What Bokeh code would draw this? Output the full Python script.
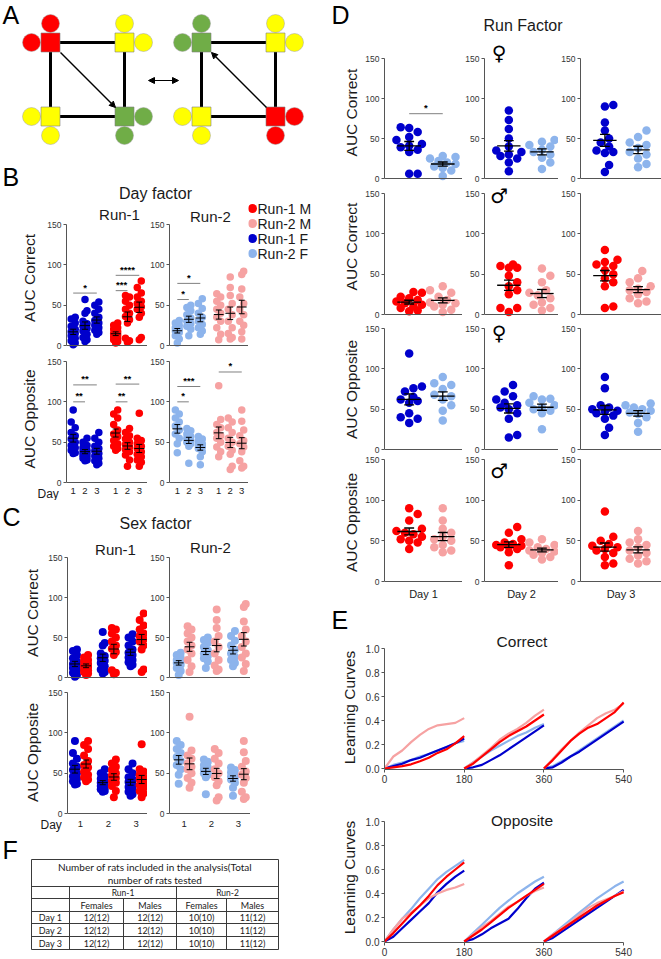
import math
import numpy as np
from bokeh.plotting import figure
from bokeh.layouts import row, column
from bokeh.models import (Range1d, FixedTicker, Span, Arrow, NormalHead, Spacer,
                          NumeralTickFormatter)
from bokeh.core.properties import value
from bokeh.embed import file_html
from bokeh.resources import INLINE

# =========================== DATA ===========================
# Panels B and C: AUC per rat, lists for day 1, day 2, day 3
R1F_COR = [[35, 33, 28, 24, 20, 17, 15, 12, 9, 6, 3, 1],
           [57, 43, 40, 30, 27, 24, 21, 18, 14, 10, 7, 5],
           [54, 50, 45, 40, 35, 31, 28, 25, 22, 19, 16, 14]]
R1M_COR = [[28, 25, 22, 20, 17, 15, 13, 11, 9, 7, 5, 3],
           [62, 60, 55, 50, 45, 40, 36, 32, 28, 9, 6, 4],
           [80, 72, 65, 60, 55, 52, 48, 45, 40, 35, 10, 7]]
R2F_COR = [[31, 28, 25, 22, 20, 18, 16, 12, 8, 3],
           [50, 47, 43, 38, 34, 30, 27, 24, 20, 12],
           [58, 52, 46, 40, 35, 30, 26, 22, 18, 14]]
R2M_COR = [[64, 60, 55, 50, 45, 40, 35, 30, 22, 14, 7],
           [85, 72, 62, 52, 45, 38, 30, 22, 15, 10, 8],
           [92, 88, 70, 60, 52, 45, 38, 30, 25, 17, 8]]
R1F_OPP = [[90, 75, 68, 62, 58, 54, 50, 46, 43, 40, 37, 36],
           [55, 50, 46, 43, 40, 38, 36, 34, 32, 30, 28, 27],
           [62, 55, 50, 45, 42, 39, 36, 33, 30, 27, 24, 22]]
R1M_OPP = [[90, 85, 80, 72, 65, 60, 57, 52, 48, 45, 42, 40],
           [67, 62, 58, 54, 50, 47, 44, 41, 38, 34, 28, 20],
           [86, 55, 52, 48, 45, 42, 38, 35, 32, 28, 25, 20]]
R2F_OPP = [[90, 85, 80, 75, 70, 65, 60, 55, 48, 37],
           [67, 64, 60, 57, 55, 52, 50, 48, 45, 24],
           [57, 54, 51, 48, 46, 44, 42, 38, 32, 22]]
R2M_OPP = [[120, 78, 72, 68, 62, 58, 55, 50, 44, 38, 32],
           [80, 75, 68, 62, 55, 50, 45, 40, 35, 20, 16],
           [90, 76, 65, 58, 52, 48, 44, 38, 27, 20, 18]]

# significance: (group, day a, day b, height, label)
SIG_B_R1_COR = [("F", 1, 3, 65, "*"), ("M", 1, 2, 68, "***"), ("M", 1, 3, 87, "****")]
SIG_B_R2_COR = [("F", 1, 2, 57, "*"), ("F", 1, 3, 77, "*")]
SIG_B_R1_OPP = [("F", 1, 2, 100, "**"), ("F", 1, 3, 121, "**"),
                ("M", 1, 2, 100, "**"), ("M", 1, 3, 122, "**")]
SIG_B_R2_OPP = [("F", 1, 2, 100, "*"), ("F", 1, 3, 119, "***"), ("M", 1, 3, 137, "*")]

# Panel D: run factor (run-1 vs run-2), lists for day 1, day 2, day 3
DF_R1_COR = [[64, 63, 58, 52, 48, 43, 41, 39, 36, 33, 6, 6],
             [85, 73, 62, 50, 40, 35, 33, 30, 28, 25, 20, 9],
             [92, 90, 70, 60, 50, 45, 40, 35, 33, 32, 17, 8]]
DF_R2_COR = [[28, 27, 25, 22, 20, 18, 15, 13, 10, 3],
             [48, 46, 42, 40, 36, 33, 30, 26, 20, 12],
             [60, 52, 45, 42, 38, 33, 30, 25, 18, 14]]
DM_R1_COR = [[28, 27, 22, 20, 18, 16, 14, 12, 10, 8, 5, 4],
             [62, 60, 58, 58, 48, 40, 35, 30, 25, 8, 8, 3],
             [80, 68, 65, 62, 60, 55, 50, 45, 40, 35, 10, 8]]
DM_R2_COR = [[35, 30, 27, 22, 18, 15, 14, 12, 10, 6, 3],
             [57, 48, 40, 30, 27, 24, 20, 15, 12, 8, 5],
             [54, 45, 40, 35, 32, 30, 28, 25, 20, 16, 14]]
DF_R1_OPP = [[119, 78, 76, 72, 65, 62, 60, 58, 45, 40, 38, 33],
             [80, 72, 66, 62, 58, 55, 52, 50, 45, 38, 18, 15],
             [90, 76, 55, 52, 50, 48, 47, 45, 42, 38, 27, 18]]
DF_R2_OPP = [[90, 82, 80, 75, 68, 66, 62, 55, 48, 36],
             [66, 63, 62, 58, 55, 52, 50, 48, 45, 25],
             [57, 55, 52, 50, 48, 46, 44, 40, 33, 22]]
DM_R1_OPP = [[90, 83, 75, 65, 62, 60, 58, 55, 52, 50, 48, 40],
             [67, 60, 52, 48, 46, 45, 44, 43, 42, 40, 36, 20],
             [86, 55, 50, 46, 44, 42, 40, 38, 35, 30, 22, 20]]
DM_R2_OPP = [[90, 75, 65, 60, 55, 52, 50, 45, 42, 38, 36],
             [52, 48, 45, 42, 40, 38, 37, 35, 33, 30, 27],
             [62, 52, 48, 45, 42, 38, 35, 32, 28, 25, 22]]
SIG_D = [(0, 0, 81, "*")]   # (row, column/day index, height, label)

# Panel E: learning curves sampled every 20 s within each 180 s day block
CURVE_T = [0, 20, 40, 60, 80, 100, 120, 140, 160, 180]
DAY_START = [0, 180, 360]
COR_R1M = [[0, 0.01, 0.02, 0.035, 0.06, 0.09, 0.13, 0.16, 0.21, 0.27],
           [0, 0.04, 0.10, 0.16, 0.22, 0.27, 0.31, 0.35, 0.40, 0.45],
           [0, 0.07, 0.15, 0.23, 0.29, 0.34, 0.37, 0.42, 0.47, 0.55]]
COR_R2M = [[0, 0.10, 0.15, 0.22, 0.28, 0.33, 0.36, 0.37, 0.38, 0.42],
           [0, 0.05, 0.11, 0.17, 0.24, 0.29, 0.33, 0.38, 0.44, 0.49],
           [0, 0.08, 0.16, 0.23, 0.30, 0.36, 0.42, 0.46, 0.49, 0.54]]
COR_R1F = [[0, 0.02, 0.04, 0.07, 0.09, 0.12, 0.15, 0.18, 0.21, 0.25],
           [0, 0.01, 0.03, 0.07, 0.11, 0.16, 0.21, 0.26, 0.31, 0.36],
           [0, 0.01, 0.05, 0.10, 0.14, 0.19, 0.24, 0.29, 0.34, 0.39]]
COR_R2F = [[0, 0.03, 0.05, 0.07, 0.10, 0.12, 0.15, 0.18, 0.21, 0.23],
           [0, 0.05, 0.10, 0.15, 0.19, 0.23, 0.27, 0.30, 0.34, 0.37],
           [0, 0.02, 0.06, 0.10, 0.15, 0.20, 0.25, 0.30, 0.35, 0.40]]
OPP_R1M = [[0, 0.07, 0.15, 0.23, 0.30, 0.38, 0.47, 0.54, 0.60, 0.66],
           [0, 0.05, 0.10, 0.16, 0.22, 0.28, 0.33, 0.38, 0.43, 0.48],
           [0, 0.05, 0.10, 0.15, 0.20, 0.25, 0.30, 0.34, 0.38, 0.41]]
OPP_R2M = [[0, 0.10, 0.19, 0.24, 0.30, 0.36, 0.40, 0.43, 0.45, 0.48],
           [0, 0.06, 0.12, 0.17, 0.23, 0.29, 0.33, 0.38, 0.42, 0.45],
           [0, 0.06, 0.11, 0.16, 0.22, 0.28, 0.32, 0.35, 0.38, 0.42]]
OPP_R1F = [[0, 0.04, 0.11, 0.18, 0.25, 0.32, 0.41, 0.48, 0.54, 0.59],
           [0, 0.02, 0.06, 0.11, 0.15, 0.19, 0.27, 0.36, 0.44, 0.49],
           [0, 0.03, 0.08, 0.13, 0.18, 0.23, 0.28, 0.33, 0.38, 0.43]]
OPP_R2F = [[0, 0.10, 0.19, 0.27, 0.36, 0.44, 0.52, 0.58, 0.63, 0.68],
           [0, 0.07, 0.14, 0.21, 0.28, 0.34, 0.40, 0.45, 0.50, 0.54],
           [0, 0.06, 0.12, 0.18, 0.24, 0.30, 0.36, 0.41, 0.46, 0.50]]

# Labels / ticks
LEGEND_LABELS = ["Run-1 M", "Run-2 M", "Run-1 F", "Run-2 F"]
DAY_TICK_LABELS = ["1", "2", "3"]
D_DAY_LABELS = ["Day 1", "Day 2", "Day 3"]
AUC_TICKS = [0, 50, 100, 150]
E_X_TICKS = [0, 180, 360, 540]
E_Y_TICKS = [0.0, 0.2, 0.4, 0.6, 0.8, 1.0]

# Panel F table
TABLE_TITLE = ["Number of rats included in the analysis(Total", "number of rats tested"]
TABLE_RUNS = ["Run-1", "Run-2"]
TABLE_SEX = ["Females", "Males", "Females", "Males"]
TABLE_DAYS = ["Day 1", "Day 2", "Day 3"]
TABLE_COUNTS = [["12(12)", "12(12)", "10(10)", "11(12)"],
                ["12(12)", "12(12)", "10(10)", "11(12)"],
                ["12(12)", "12(12)", "10(10)", "11(12)"]]

# Panel A schematic: node colours (TL, TR, BL, BR) for each arena
A_LEFT_COLORS = ["red", "yellow", "yellow", "green"]
A_RIGHT_COLORS = ["green", "yellow", "yellow", "red"]

# =========================== STYLE ===========================
FONT = "Liberation Sans"
TFONT = "Lato"
AX = "#555555"
TXT = "#1a1a1a"
C_R1M, C_R2M, C_R1F, C_R2F = "#ff0000", "#f6a2a2", "#0000cc", "#8db4ec"
A_COL = {"red": "#ff0000", "yellow": "#ffff00", "green": "#70ad47"}


def mkfig(box, frame=None, xr=None, yr=None, xaxis=False, yaxis=False):
    L, T, R, B = box
    if frame is None:
        frame = box
    fl, ft, fr, fb = frame
    if xr is None:
        xr = (fl, fr)
    if yr is None:
        yr = (fb, ft)
    p = figure(width=R - L, height=B - T, x_range=Range1d(*xr), y_range=Range1d(*yr),
               output_backend="svg", toolbar_location=None, title=None,
               x_axis_location="below" if xaxis else None,
               y_axis_location="left" if yaxis else None,
               min_border_left=fl - L, min_border_right=R - fr,
               min_border_top=ft - T, min_border_bottom=B - fb,
               background_fill_color="white", border_fill_color="white",
               outline_line_color=None)
    p.grid.visible = False
    sx = (xr[1] - xr[0]) / (fr - fl)
    sy = (yr[1] - yr[0]) / (fb - ft)

    def X(px):
        return xr[0] + (px - fl) * sx

    def Y(py):
        return yr[0] + (fb - py) * sy
    return p, X, Y


def xr_from(fl, fr, px_a, a, ppu):
    s = a - (px_a - fl) / ppu
    return (s, s + (fr - fl) / ppu)


def yr_from(ft, fb, y0px, ytop_px, vtop):
    ppu = (y0px - ytop_px) / vtop
    return (-(fb - y0px) / ppu, vtop + (ytop_px - ft) / ppu), ppu


def txt(p, x, y, s, size, align="center", baseline="middle", font=FONT,
        color=TXT, style="normal", angle=0.0):
    p.text(x=[x], y=[y], text=[s], text_font=value(font),
           text_font_size=value(f"{size}px"), text_align=align,
           text_baseline=baseline, text_color=color, text_font_style=style,
           angle=angle, level="overlay")


def letter(p, x, y, s):
    txt(p, x, y, s, 25, align="left", baseline="top", color="black")


def style_y(p, ticks, label=None, standoff=5, fmt=None, size="8.5px", label_size="15.5px"):
    ax = p.yaxis[0]
    ax.ticker = FixedTicker(ticks=ticks)
    ax.bounds = (ticks[0], ticks[-1])
    ax.axis_line_color = AX
    ax.major_tick_line_color = AX
    ax.minor_tick_line_color = None
    ax.major_tick_out = 3
    ax.major_tick_in = 0
    ax.major_label_text_font = FONT
    ax.major_label_text_font_size = size
    ax.major_label_text_color = "#333333"
    ax.major_label_standoff = 2
    if fmt is not None:
        ax.formatter = fmt
    if label:
        ax.axis_label = label
        ax.axis_label_text_font = FONT
        ax.axis_label_text_font_size = label_size
        ax.axis_label_text_font_style = "normal"
        ax.axis_label_text_color = TXT
        ax.axis_label_standoff = standoff


def style_x_labels(p, ticks, labels, size="9.5px", standoff=0):
    ax = p.xaxis[0]
    ax.ticker = FixedTicker(ticks=ticks)
    ax.major_label_overrides = {t: l for t, l in zip(ticks, labels)}
    ax.axis_line_color = None
    ax.major_tick_line_color = None
    ax.minor_tick_line_color = None
    ax.major_tick_out = 0
    ax.major_tick_in = 0
    ax.major_label_standoff = standoff
    ax.major_label_text_font = FONT
    ax.major_label_text_font_size = size
    ax.major_label_text_color = "#222222"


def swarm(vals, ppu_y, diam, max_off, step):
    order = sorted(range(len(vals)), key=lambda i: vals[i])
    placed = []
    offs = [0.0] * len(vals)
    cands = [0.0]
    k = 1
    while k * step <= max_off + 1e-9:
        cands += [k * step, -k * step]
        k += 1
    for i in order:
        y = vals[i] * ppu_y
        best = None
        for c in cands:
            if all((c - px) ** 2 + (y - py) ** 2 >= (diam * 0.92) ** 2 for px, py in placed):
                best = c
                break
        if best is None:
            best = max(cands, key=lambda c: min([(c - px) ** 2 + (y - py) ** 2
                                                 for px, py in placed] or [1e9]))
        offs[i] = best
        placed.append((best, y))
    return offs


def strip(p, xc, vals, color, ppu_x, ppu_y, diam, max_off, step, mean_half, cap_half, lw=1.0):
    offs = swarm(vals, ppu_y, diam, max_off, step)
    xs = [xc + o / ppu_x for o in offs]
    p.scatter(x=xs, y=vals, size=diam, fill_color=color, line_color=None)
    v = np.array(vals, dtype=float)
    m = v.mean()
    s = v.std(ddof=1) / np.sqrt(len(v))
    mh = mean_half / ppu_x
    ch = cap_half / ppu_x
    p.segment(x0=[xc - mh, xc, xc - ch, xc - ch], y0=[m, m - s, m + s, m - s],
              x1=[xc + mh, xc, xc + ch, xc + ch], y1=[m, m + s, m + s, m - s],
              line_color="black", line_width=lw)


def sig(p, x0, x1, y, label, ppu_y):
    p.segment(x0=[x0], y0=[y], x1=[x1], y1=[y], line_color="#808080", line_width=1)
    p.text(x=[(x0 + x1) / 2], y=[y + 0.5 / ppu_y], text=[label], text_align="center",
           text_baseline="bottom", text_font=value(FONT), text_font_size=value("9.5px"),
           text_font_style="bold", text_color="black", level="overlay")


def baseline(p):
    p.add_layout(Span(location=0, dimension="width", line_color=AX, line_width=1))


# =========================== PANEL A ===========================
fA, XA, YA = mkfig((0, 0, 330, 160))
letter(fA, 2, 0.5, "A")
corner_x = {"L": [50, 124], "R": [201, 275]}
corner_y = [42, 116]
circ_dirs = [[(0, -19), (-19, 0)], [(0, -19), (19, 0)], [(-19, 0), (0, 19)], [(19, 0), (0, 19)]]
for key, cols in (("L", A_LEFT_COLORS), ("R", A_RIGHT_COLORS)):
    xs_ = corner_x[key]
    nodes = [(xs_[0], corner_y[0]), (xs_[1], corner_y[0]), (xs_[0], corner_y[1]), (xs_[1], corner_y[1])]
    ring = [0, 1, 3, 2, 0]
    fA.line([nodes[i][0] for i in ring], [nodes[i][1] for i in ring], line_color="black", line_width=3)
    cx, cy, cc = [], [], []
    for (nx, ny), col, dirs in zip(nodes, cols, circ_dirs):
        for dx, dy in dirs:
            cx.append(nx + dx)
            cy.append(ny + dy)
            cc.append(A_COL[col])
    fA.scatter(cx, cy, size=18, marker="circle", fill_color=cc, line_color="#a0a0a0", line_width=0.5)
    fA.scatter([n[0] for n in nodes], [n[1] for n in nodes], size=19, marker="square",
               fill_color=[A_COL[c] for c in cols], line_color="#808080", line_width=0.6)
head = dict(size=6, fill_color="black", line_color="black")
fA.add_layout(Arrow(end=NormalHead(**head), x_start=60, y_start=52, x_end=115, y_end=107,
                    line_width=1.5, line_color="black"))
fA.add_layout(Arrow(end=NormalHead(**head), x_start=266, y_start=107, x_end=211, y_end=52,
                    line_width=1.5, line_color="black"))
fA.add_layout(Arrow(start=NormalHead(**head), end=NormalHead(**head), x_start=148, y_start=80,
                    x_end=178, y_end=80, line_width=1.2, line_color="black"))

# =========================== PANEL B ===========================
B_PPX = 1.18
B_POS_F = [10, 20, 30]
B_POS_M = [46, 56, 66]


def b_panel(box, frame, y0, y150, anchor, Fs, Ms, cF, cM, sigs, bottom=False,
            ylabel=None, standoff=6):
    xr = xr_from(frame[0], frame[2], anchor, B_POS_F[0], B_PPX)
    yr, ppy = yr_from(frame[1], frame[3], y0, y150, 150)
    p, X, Y = mkfig(box, frame, xr, yr, xaxis=bottom, yaxis=True)
    style_y(p, AUC_TICKS, ylabel, standoff)
    baseline(p)
    for k in range(3):
        strip(p, B_POS_F[k], Fs[k], cF, B_PPX, ppy, 7.5, 2, 2, 5, 3)
        strip(p, B_POS_M[k], Ms[k], cM, B_PPX, ppy, 7.5, 2, 2, 5, 3)
    for g, a, b, y, lab in sigs:
        pos = B_POS_F if g == "F" else B_POS_M
        sig(p, pos[a - 1], pos[b - 1], y, lab, ppy)
    if bottom:
        style_x_labels(p, B_POS_F + B_POS_M, DAY_TICK_LABELS * 2)
    return p, X, Y


fBh, XBh, YBh = mkfig((0, 160, 248, 205))
letter(fBh, 2, 162.5, "B")
txt(fBh, 155, 193, "Day factor", 16)

fBtl, X1, Y1 = b_panel((0, 205, 147, 350), (66, 205, 147, 350), 345, 224, 72.7,
                       R1F_COR, R1M_COR, C_R1F, C_R1M, SIG_B_R1_COR, ylabel="AUC Correct")
txt(fBtl, X1(119), Y1(214), "Run-1", 15)
fBtr, X2, Y2 = b_panel((147, 205, 248, 350), (167, 205, 248, 350), 345, 224, 175,
                       R2F_COR, R2M_COR, C_R2F, C_R2M, SIG_B_R2_COR)
txt(fBtr, X2(209), Y2(216), "Run-2", 15)
fBbl, X3, Y3 = b_panel((0, 350, 147, 500), (66, 350, 147, 487), 482, 361, 72.7,
                       R1F_OPP, R1M_OPP, C_R1F, C_R1M, SIG_B_R1_OPP, bottom=True,
                       ylabel="AUC Opposite")
txt(fBbl, X3(37), Y3(493), "Day", 12, align="left")
fBbr, X4, Y4 = b_panel((147, 350, 248, 500), (167, 350, 248, 487), 482, 361, 175,
                       R2F_OPP, R2M_OPP, C_R2F, C_R2M, SIG_B_R2_OPP, bottom=True)

fLeg, XL, YL = mkfig((248, 160, 330, 500))
leg_colors = [C_R1M, C_R2M, C_R1F, C_R2F]
leg_y = [208 + 15 * i for i in range(len(LEGEND_LABELS))]
fLeg.scatter([252] * 4, leg_y, size=9, fill_color=leg_colors, line_color=None)
fLeg.text(x=[257] * 4, y=leg_y, text=LEGEND_LABELS, text_font=value(FONT),
          text_font_size=value("14px"), text_align="left", text_baseline="middle",
          text_color=TXT)

# =========================== PANEL C ===========================
C_PPX = 2.78
C_DAY_POS = [10, 20, 30]
C_SHIFT = 2


def c_panel(box, frame, y0, y150, anchor, Fs, Ms, cF, cM, bottom=False, ylabel=None, standoff=4):
    xr = xr_from(frame[0], frame[2], anchor, C_DAY_POS[0], C_PPX)
    yr, ppy = yr_from(frame[1], frame[3], y0, y150, 150)
    p, X, Y = mkfig(box, frame, xr, yr, xaxis=bottom, yaxis=True)
    style_y(p, AUC_TICKS, ylabel, standoff)
    baseline(p)
    for k in range(3):
        strip(p, C_DAY_POS[k] - C_SHIFT, Fs[k], cF, C_PPX, ppy, 8, 2, 2, 5, 3)
        strip(p, C_DAY_POS[k] + C_SHIFT, Ms[k], cM, C_PPX, ppy, 8, 2, 2, 5, 3)
    if bottom:
        style_x_labels(p, C_DAY_POS, DAY_TICK_LABELS, standoff=1)
    return p, X, Y


fCh, XCh, YCh = mkfig((0, 500, 330, 540))
letter(fCh, 2, 502.5, "C")
txt(fCh, 155, 523, "Sex factor", 16)
fCtl, X5, Y5 = c_panel((0, 540, 147, 685), (67, 540, 147, 685), 677, 557, 80,
                       R1F_COR, R1M_COR, C_R1F, C_R1M, ylabel="AUC Correct")
txt(fCtl, X5(115), Y5(549), "Run-1", 15)
fCtr, X6, Y6 = c_panel((147, 540, 250, 685), (167, 540, 250, 685), 677, 557, 182,
                       R2F_COR, R2M_COR, C_R2F, C_R2M)
txt(fCtr, X6(209), Y6(547), "Run-2", 15)
fCbl, X7, Y7 = c_panel((0, 685, 147, 835), (67, 685, 147, 819), 813, 692, 80,
                       R1F_OPP, R1M_OPP, C_R1F, C_R1M, bottom=True, ylabel="AUC Opposite")
txt(fCbl, X7(40), Y7(824), "Day", 12, align="left")
fCbr, X8, Y8 = c_panel((147, 685, 250, 835), (167, 685, 250, 819), 813, 692, 182,
                       R2F_OPP, R2M_OPP, C_R2F, C_R2M, bottom=True)

# =========================== PANEL F ===========================
fF, XF, YF = mkfig((0, 835, 330, 959))
letter(fF, 2, 835.5, "F")
col_edges = [31, 69, 123, 176, 226, 278]
row_edges = [859, 886, 898, 911, 923, 936, 949]
hx0, hy0, hx1, hy1 = [], [], [], []
for yy in row_edges:
    hx0.append(col_edges[0]); hx1.append(col_edges[-1]); hy0.append(yy); hy1.append(yy)
for xx in (col_edges[0], col_edges[-1]):
    hx0.append(xx); hx1.append(xx); hy0.append(row_edges[0]); hy1.append(row_edges[-1])
for xx in (col_edges[1], col_edges[3]):
    hx0.append(xx); hx1.append(xx); hy0.append(row_edges[1]); hy1.append(row_edges[-1])
for xx in (col_edges[2], col_edges[4]):
    hx0.append(xx); hx1.append(xx); hy0.append(row_edges[2]); hy1.append(row_edges[-1])
fF.segment(x0=hx0, y0=hy0, x1=hx1, y1=hy1, line_color="#3a3a3a", line_width=1)
mid = (col_edges[0] + col_edges[-1]) / 2
txt(fF, mid, 866, TABLE_TITLE[0], 10, font=TFONT)
txt(fF, mid, 879.5, TABLE_TITLE[1], 10, font=TFONT)
for i, lab in enumerate(TABLE_RUNS):
    txt(fF, (col_edges[1 + 2 * i] + col_edges[3 + 2 * i]) / 2, 892.5, lab, 8.5, font=TFONT)
for j, lab in enumerate(TABLE_SEX):
    txt(fF, (col_edges[1 + j] + col_edges[2 + j]) / 2, 905, lab, 9, font=TFONT)
for r, dlab in enumerate(TABLE_DAYS):
    yc = (row_edges[3 + r] + row_edges[4 + r]) / 2
    txt(fF, (col_edges[0] + col_edges[1]) / 2, yc, dlab, 9, font=TFONT)
    for j, cnt in enumerate(TABLE_COUNTS[r]):
        txt(fF, (col_edges[1 + j] + col_edges[2 + j]) / 2, yc, cnt, 9, font=TFONT)

# =========================== RIGHT STRIP (letters + rotated y labels) ===========================
fRl, XR, YR = mkfig((330, 0, 362, 959), yr=(-959, 0))
letter(fRl, 331, -0.5, "D")
letter(fRl, 331, -605.5, "E")
for lab, yc in (("AUC Correct", 112), ("AUC Correct", 246), ("AUC Opposite", 389),
                ("AUC Opposite", 522)):
    txt(fRl, 351, -yc, lab, 15.5, angle=math.pi / 2)
for yc in (707, 877):
    txt(fRl, 348.5, -yc, "Learning Curves", 15.5, angle=math.pi / 2)

# =========================== PANEL D ===========================
D_PPX = 3.4
D_POS = [10, 20]
fDh, XDh, YDh = mkfig((362, 0, 661, 40), (383, 0, 661, 40))
txt(fDh, 522, 25, "Run Factor", 16)

d_rows = [(40, 183, 183, 178, 58), (183, 319, 319, 314, 193),
          (319, 454, 454, 449, 328), (454, 605, 586, 581, 459)]
d_cols = [(362, 383, 462), (462, 482, 558), (558, 578, 661)]
d_specs = [(DF_R1_COR, DF_R2_COR, C_R1F, C_R2F, "\u2640", 52),
           (DM_R1_COR, DM_R2_COR, C_R1M, C_R2M, "\u2642", 195),
           (DF_R1_OPP, DF_R2_OPP, C_R1F, C_R2F, "\u2640", 332),
           (DM_R1_OPP, DM_R2_OPP, C_R1M, C_R2M, "\u2642", 470)]
d_figs = []
for ri, (bt, bb, fb, y0, y150) in enumerate(d_rows):
    A_sets, B_sets, cA, cB, sym, sym_y = d_specs[ri]
    rowfigs = []
    for ci, (bl, fl, fr) in enumerate(d_cols):
        xr = xr_from(fl, fr, fl + 25, D_POS[0], D_PPX)
        yr, ppy = yr_from(bt, fb, y0, y150, 150)
        last = ri == len(d_rows) - 1
        p, X, Y = mkfig((bl, bt, fr, bb), (fl, bt, fr, fb), xr, yr, xaxis=last, yaxis=True)
        style_y(p, AUC_TICKS)
        baseline(p)
        strip(p, D_POS[0], A_sets[ci], cA, D_PPX, ppy, 8.5, 17, 4.3, 12, 5, 1.3)
        strip(p, D_POS[1], B_sets[ci], cB, D_PPX, ppy, 8.5, 17, 4.3, 12, 5, 1.3)
        for (sr, sc, sy, slab) in SIG_D:
            if sr == ri and sc == ci:
                sig(p, D_POS[0], D_POS[1], sy, slab, ppy)
        if ci == 1:
            txt(p, X(497), Y(sym_y), sym, 20, font="DejaVu Sans", color="black")
        if last:
            ax = p.xaxis[0]
            ax.ticker = FixedTicker(ticks=[])
            ax.axis_line_color = None
            ax.major_tick_line_color = None
            ax.minor_tick_line_color = None
            ax.axis_label = D_DAY_LABELS[ci]
            ax.axis_label_text_font = FONT
            ax.axis_label_text_font_size = "11px"
            ax.axis_label_text_font_style = "normal"
            ax.axis_label_text_color = TXT
            ax.axis_label_standoff = 1
        rowfigs.append(p)
    d_figs.append(rowfigs)

# =========================== PANEL E ===========================
E_PPX = 240 / 540


def e_panel(box, frame, y0px, y1px, series, title, title_y):
    xr = xr_from(frame[0], frame[2], frame[0], 0, E_PPX)
    yr, ppy = yr_from(frame[1], frame[3], y0px, y1px, 1.0)
    p, X, Y = mkfig(box, frame, xr, yr, xaxis=True, yaxis=True)
    style_y(p, E_Y_TICKS, None, fmt=NumeralTickFormatter(format="0.0"), size="10px")
    ax = p.xaxis[0]
    ax.ticker = FixedTicker(ticks=E_X_TICKS)
    ax.bounds = (E_X_TICKS[0], E_X_TICKS[-1])
    ax.axis_line_color = AX
    ax.major_tick_line_color = AX
    ax.minor_tick_line_color = None
    ax.major_tick_out = 3
    ax.major_tick_in = 0
    ax.major_label_standoff = 2
    ax.major_label_text_font = FONT
    ax.major_label_text_font_size = "10px"
    ax.major_label_text_color = "#333333"
    for vals, col in series:
        for d in range(3):
            p.line([DAY_START[d] + t for t in CURVE_T], vals[d], line_color=col, line_width=2.2)
    txt(p, X(521), Y(title_y), title, 15.5)
    return p


fEc = e_panel((362, 605, 661, 790), (383, 648, 661, 769), 768, 648,
              [(COR_R2F, C_R2F), (COR_R1F, C_R1F), (COR_R2M, C_R2M), (COR_R1M, C_R1M)],
              "Correct", 641)
fEo = e_panel((362, 790, 661, 959), (383, 821, 661, 942), 941, 821,
              [(OPP_R2F, C_R2F), (OPP_R1F, C_R1F), (OPP_R2M, C_R2M), (OPP_R1M, C_R1M)],
              "Opposite", 820)

# =========================== LAYOUT ===========================
left = column(
    fA,
    row(column(fBh, row(fBtl, fBtr), row(fBbl, fBbr)), fLeg),
    fCh,
    row(fCtl, fCtr, Spacer(width=80, height=145)),
    row(fCbl, fCbr, Spacer(width=80, height=150)),
    fF,
)
right = row(fRl, column(fDh, *[row(*r) for r in d_figs], fEc, fEo))
root = row(left, right)

open("out.html", "w").write(file_html(root, INLINE))
